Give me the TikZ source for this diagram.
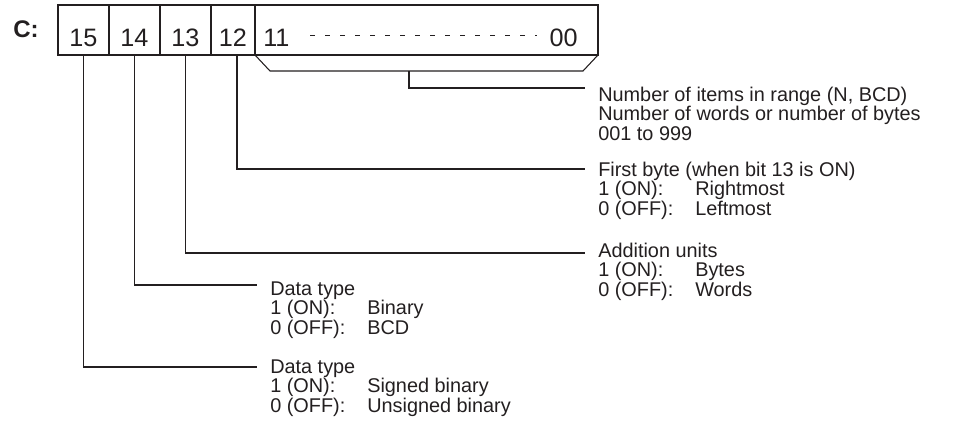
\documentclass[tikz,border=0pt]{standalone}
\usepackage{fontspec}
\setmainfont{Liberation Sans}
\usetikzlibrary{positioning}
\definecolor{ink}{HTML}{231F20}
\newcommand{\onoff}[2]{\makebox[72.75pt][l]{#1}#2}

\begin{document}
\begin{tikzpicture}[x=0.75pt,y=-0.75pt,color=ink,
    cell/.style={draw,line width=0.8pt,inner sep=0pt,outer sep=0pt,minimum height=37.5pt,
      text height=30.75pt,text depth=6.75pt,font=\fontsize{18.9pt}{20pt}\selectfont},
    bitno/.style={inner sep=0pt,font=\fontsize{18.9pt}{20pt}\selectfont},
    desc/.style={anchor=base west,align=left,inner sep=0pt,font=\fontsize{14.9pt}{14.6pt}\selectfont},
    wire/.style={line width=0.8pt}]
  \useasboundingbox (0,0) rectangle (971,421);
  % register word C
  \node[inner sep=0pt,anchor=base west,font=\bfseries\fontsize{18pt}{18pt}\selectfont] (reg) at (13,37) {C:};
  \node[cell,minimum width=38.25pt] (b15) at (83.5,30) {15};
  \node[cell,minimum width=38.25pt,right=0pt of b15] (b14) {14};
  \node[cell,minimum width=38.25pt,right=0pt of b14] (b13) {13};
  \node[cell,minimum width=33pt,right=0pt of b13] (b12) {12};
  \node[cell,minimum width=257.25pt,right=0pt of b12] (brest) {};
  \node[bitno,anchor=base west] (n11) at (263,46) {11};
  \node[bitno,anchor=base east] (n00) at (578,46) {00};
  \draw[line width=0.6pt,dash pattern=on 3.75pt off 7.5pt] (310,35) -- (537,35);
  % bracket under bits 11-00
  \draw[wire] (brest.south west) -- ++(15,16) -- (583,71) -- (brest.south east);
  \coordinate (brk) at (409,71);
  % descriptions (anchored on their last line)
  \node[desc] (d11) at (598,140) {Number of items in range (N, BCD)\\Number of words or number of bytes\\001 to 999};
  \node[desc] (d12) at (598,215) {First byte (when bit 13 is ON)\\\onoff{1 (ON):}{Rightmost}\\\onoff{0 (OFF):}{Leftmost}};
  \node[desc] (d13) at (598,296) {Addition units\\\onoff{1 (ON):}{Bytes}\\\onoff{0 (OFF):}{Words}};
  \node[desc] (d14) at (270,334) {Data type\\\onoff{1 (ON):}{Binary}\\\onoff{0 (OFF):}{BCD}};
  \node[desc] (d15) at (270,412) {Data type\\\onoff{1 (ON):}{Signed binary}\\\onoff{0 (OFF):}{Unsigned binary}};
  % line ends
  \coordinate (e11) at (585,88);
  \coordinate (e12) at (585,169);
  \coordinate (e13) at (585,253);
  \coordinate (e14) at (257,285);
  \coordinate (e15) at (257,367);
  \draw[wire] (brk) |- (e11);
  \draw[wire] ([xshift=3pt]b12.south) |- (e12);
  \draw[wire] (b13.south) |- (e13);
  \draw[wire] (b14.south) |- (e14);
  \draw[wire] (b15.south) |- (e15);
\end{tikzpicture}
\end{document}
